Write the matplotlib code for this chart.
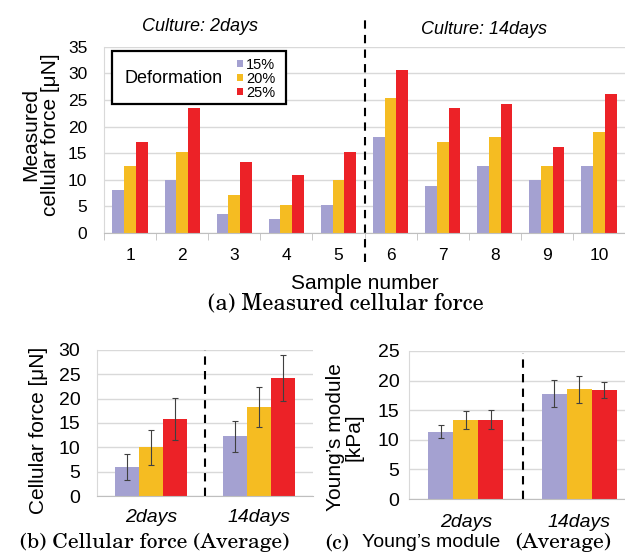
import numpy as np
import matplotlib
matplotlib.use('Agg')
import matplotlib.pyplot as plt
from matplotlib import font_manager as fm
from matplotlib.patches import Rectangle
from matplotlib.transforms import blended_transform_factory

plt.rcParams['font.family'] = ['Liberation Sans', 'DejaVu Sans']

# data
samples = ['1', '2', '3', '4', '5', '6', '7', '8', '9', '10']
deform = ['15%', '20%', '25%']
force_15 = [8.0, 10.0, 3.6, 2.6, 5.3, 18.0, 8.9, 12.6, 9.9, 12.6]
force_20 = [12.6, 15.3, 7.2, 5.3, 9.9, 25.3, 17.1, 18.0, 12.6, 18.9]
force_25 = [17.1, 23.4, 13.4, 10.8, 15.3, 30.7, 23.4, 24.3, 16.2, 26.1]

cultures = ['2days', '14days']
avg_force = [[5.9, 12.3], [10.0, 18.3], [15.9, 24.2]]
avg_force_err = [[2.7, 3.2], [3.6, 4.1], [4.3, 4.7]]
young = [[11.4, 17.8], [13.4, 18.5], [13.4, 18.4]]
young_err = [[1.1, 2.3], [1.5, 2.3], [1.6, 1.4]]

colors = ['#a4a1d1', '#f5bc22', '#ec2227']
grid_c = '#d9d9d9'

# Century-like serif for the captions, regular weight
schola = [f for f in fm.fontManager.ttflist
          if f.name == 'TeX Gyre Schola' and f.style == 'normal']
schola.sort(key=lambda f: abs(f.weight - 400) if isinstance(f.weight, int) else 999)


def cap_font(size):
    if schola:
        return fm.FontProperties(fname=schola[0].fname, size=size)
    return fm.FontProperties(family='DejaVu Serif', size=size)


fig = plt.figure(figsize=(6.25, 5.55), dpi=100)


def style_axes(ax):
    ax.set_axisbelow(True)
    ax.yaxis.grid(True, color=grid_c, lw=1)
    for s in ['top', 'right']:
        ax.spines[s].set_visible(False)
    ax.spines['left'].set_color(grid_c)
    ax.spines['bottom'].set_color('#bfbfbf')
    ax.tick_params(axis='both', length=0)


# (a) measured cellular force
ax = fig.add_axes([0.1664, 0.5802, 0.8336, 0.3357])
style_axes(ax)
x = np.arange(len(samples)) + 1
w = 0.225
for k, vals in enumerate([force_15, force_20, force_25]):
    ax.bar(x + (k - 1) * w, vals, w, color=colors[k], label=deform[k])
ax.set_xlim(0.5, 10.5)
ax.set_ylim(0, 35)
ax.set_yticks(range(0, 36, 5))
ax.set_xticks(x)
ax.set_xticklabels(samples)
ax.set_xticks(np.arange(0.5, 11, 1), minor=True)
ax.tick_params(axis='x', which='minor', length=5, color='#bfbfbf', direction='out')
ax.tick_params(axis='x', which='major', pad=11, labelsize=12.5)
ax.tick_params(axis='y', pad=12, labelsize=12.5)
ax.set_xlabel('Sample number', fontsize=15, labelpad=8)
ax.set_ylabel('Measured\ncellular force [μN]', fontsize=15, linespacing=1.05)
ax.yaxis.set_label_coords(-0.085, 0.53)
tr = blended_transform_factory(ax.transData, ax.transAxes)
ax.plot([5.5, 5.5], [-0.155, 1.143], transform=tr, clip_on=False,
        color='black', lw=1.5, ls=(0, (4, 3)))
ax.text(2.35, 1.11, 'Culture: 2days', transform=tr, ha='center', va='center',
        fontsize=13, style='italic')
ax.text(7.8, 1.09, 'Culture: 14days', transform=tr, ha='center', va='center',
        fontsize=13, style='italic')
# legend box
ax.add_patch(Rectangle((0.015, 0.69), 0.334, 0.285, transform=ax.transAxes,
                       fill=True, facecolor='white', edgecolor='black', lw=1.6,
                       zorder=5))
ax.text(0.04, 0.827, 'Deformation', transform=ax.transAxes, fontsize=13,
        va='center', zorder=6)
ax.legend(loc='center left', bbox_to_anchor=(0.255, 0.829), frameon=False,
          fontsize=10.5, handlelength=0.4, handleheight=0.4, handletextpad=0.25,
          labelspacing=0.0, borderpad=0, borderaxespad=0).set_zorder(7)
fig.text(0.553, 0.454, '(a) Measured cellular force', ha='center', va='center',
         fontproperties=cap_font(16))

# (b) cellular force average
xb = np.arange(len(cultures))
wb = 0.22
axb = fig.add_axes([0.1552, 0.1063, 0.3456, 0.2631])
style_axes(axb)
for k in range(3):
    axb.bar(xb + (k - 1) * wb, avg_force[k], wb, color=colors[k],
            yerr=avg_force_err[k], ecolor='#404040',
            error_kw=dict(lw=0.8, capsize=2.5, capthick=0.8))
axb.set_xlim(-0.5, 1.5)
axb.set_ylim(0, 30)
axb.set_yticks(range(0, 31, 5))
axb.set_xticks(xb)
axb.set_xticklabels(cultures, style='italic')
axb.tick_params(axis='x', pad=9, labelsize=14)
axb.tick_params(axis='y', pad=12, labelsize=14)
axb.set_ylabel('Cellular force [μN]', fontsize=15)
axb.yaxis.set_label_coords(-0.227, 0.45)
axb.axvline(0.5, color='black', lw=1.5, ls=(0, (4, 3)))
fig.text(0.248, 0.022, '(b) Cellular force (Average)', ha='center', va='center',
         fontproperties=cap_font(15.5))

# (c) Young's module average
axc = fig.add_axes([0.6544, 0.1009, 0.3632, 0.2667])
style_axes(axc)
for k in range(3):
    axc.bar(xb + (k - 1) * wb, young[k], wb, color=colors[k],
            yerr=young_err[k], ecolor='#404040',
            error_kw=dict(lw=0.8, capsize=2.5, capthick=0.8))
axc.set_xlim(-0.5, 1.5)
axc.set_ylim(0, 25)
axc.set_yticks(range(0, 26, 5))
axc.set_xticks(xb)
axc.set_xticklabels(cultures, style='italic')
axc.tick_params(axis='x', pad=11, labelsize=14)
axc.tick_params(axis='y', pad=7, labelsize=14)
axc.set_ylabel('Young\u2019s module\n[kPa]', fontsize=15, linespacing=0.95)
axc.yaxis.set_label_coords(-0.2, 0.42)
axc.axvline(0.5, ymax=0.985, color='black', lw=1.5, ls=(0, (4, 3)))
fig.text(0.52, 0.022, '(c)', ha='left', va='center', fontproperties=cap_font(15.5))
fig.text(0.579, 0.022, 'Young\u2019s module', ha='left', va='center', fontsize=14)
fig.text(0.824, 0.022, '(Average)', ha='left', va='center',
         fontproperties=cap_font(15.5))

fig.savefig('out.png', dpi=100)
